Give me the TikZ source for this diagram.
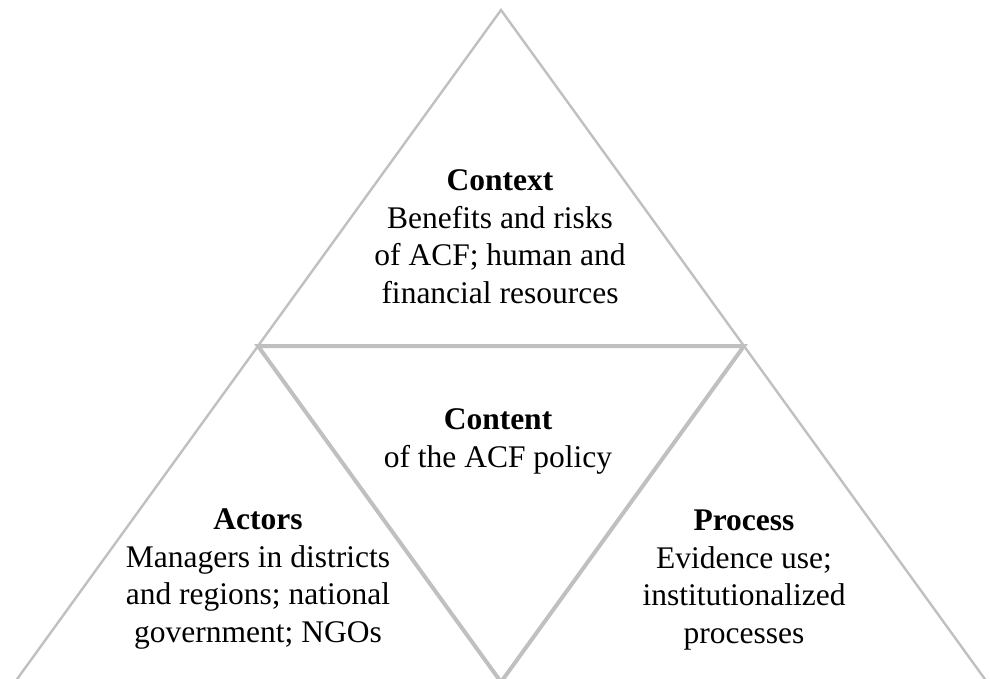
\documentclass[tikz,border=0pt]{standalone}
\usepackage{fontspec}
\setmainfont{Liberation Serif}
\definecolor{edgegray}{RGB}{192,192,192}
\begin{document}
\begin{tikzpicture}[x=1pt,y=-1pt,
  thinedge/.style={draw=edgegray,line width=2.4pt,line join=miter},
  thickedge/.style={draw=edgegray,line width=4pt,line join=miter},
  label/.style={align=center,inner sep=0pt,anchor=base,font=\fontsize{31.5}{37.5}\selectfont}]
\useasboundingbox (0,0) rectangle (990,678);
\clip (0,0) rectangle (990,678);
\coordinate (top) at (501,10);
\coordinate (bl) at (15,682);
\coordinate (br) at (987,682);
\coordinate (ml) at (258,346);
\coordinate (mr) at (744,346);
\coordinate (mb) at (501,682);
\draw[thinedge] (bl) -- (top) -- (br);
\draw[thickedge] (ml) -- (mr) -- (mb) -- cycle;
\node[label] (context) at (500,303) {\textbf{Context}\\Benefits and risks\\of ACF; human and\\financial resources};
\node[label] (content) at (498,467) {\textbf{Content}\\of the ACF policy};
\node[label] (actors) at (258,642) {\textbf{Actors}\\Managers in districts\\and regions; national\\government; NGOs};
\node[label] (process) at (744,643) {\textbf{Process}\\Evidence use;\\institutionalized\\processes};
\end{tikzpicture}
\end{document}
